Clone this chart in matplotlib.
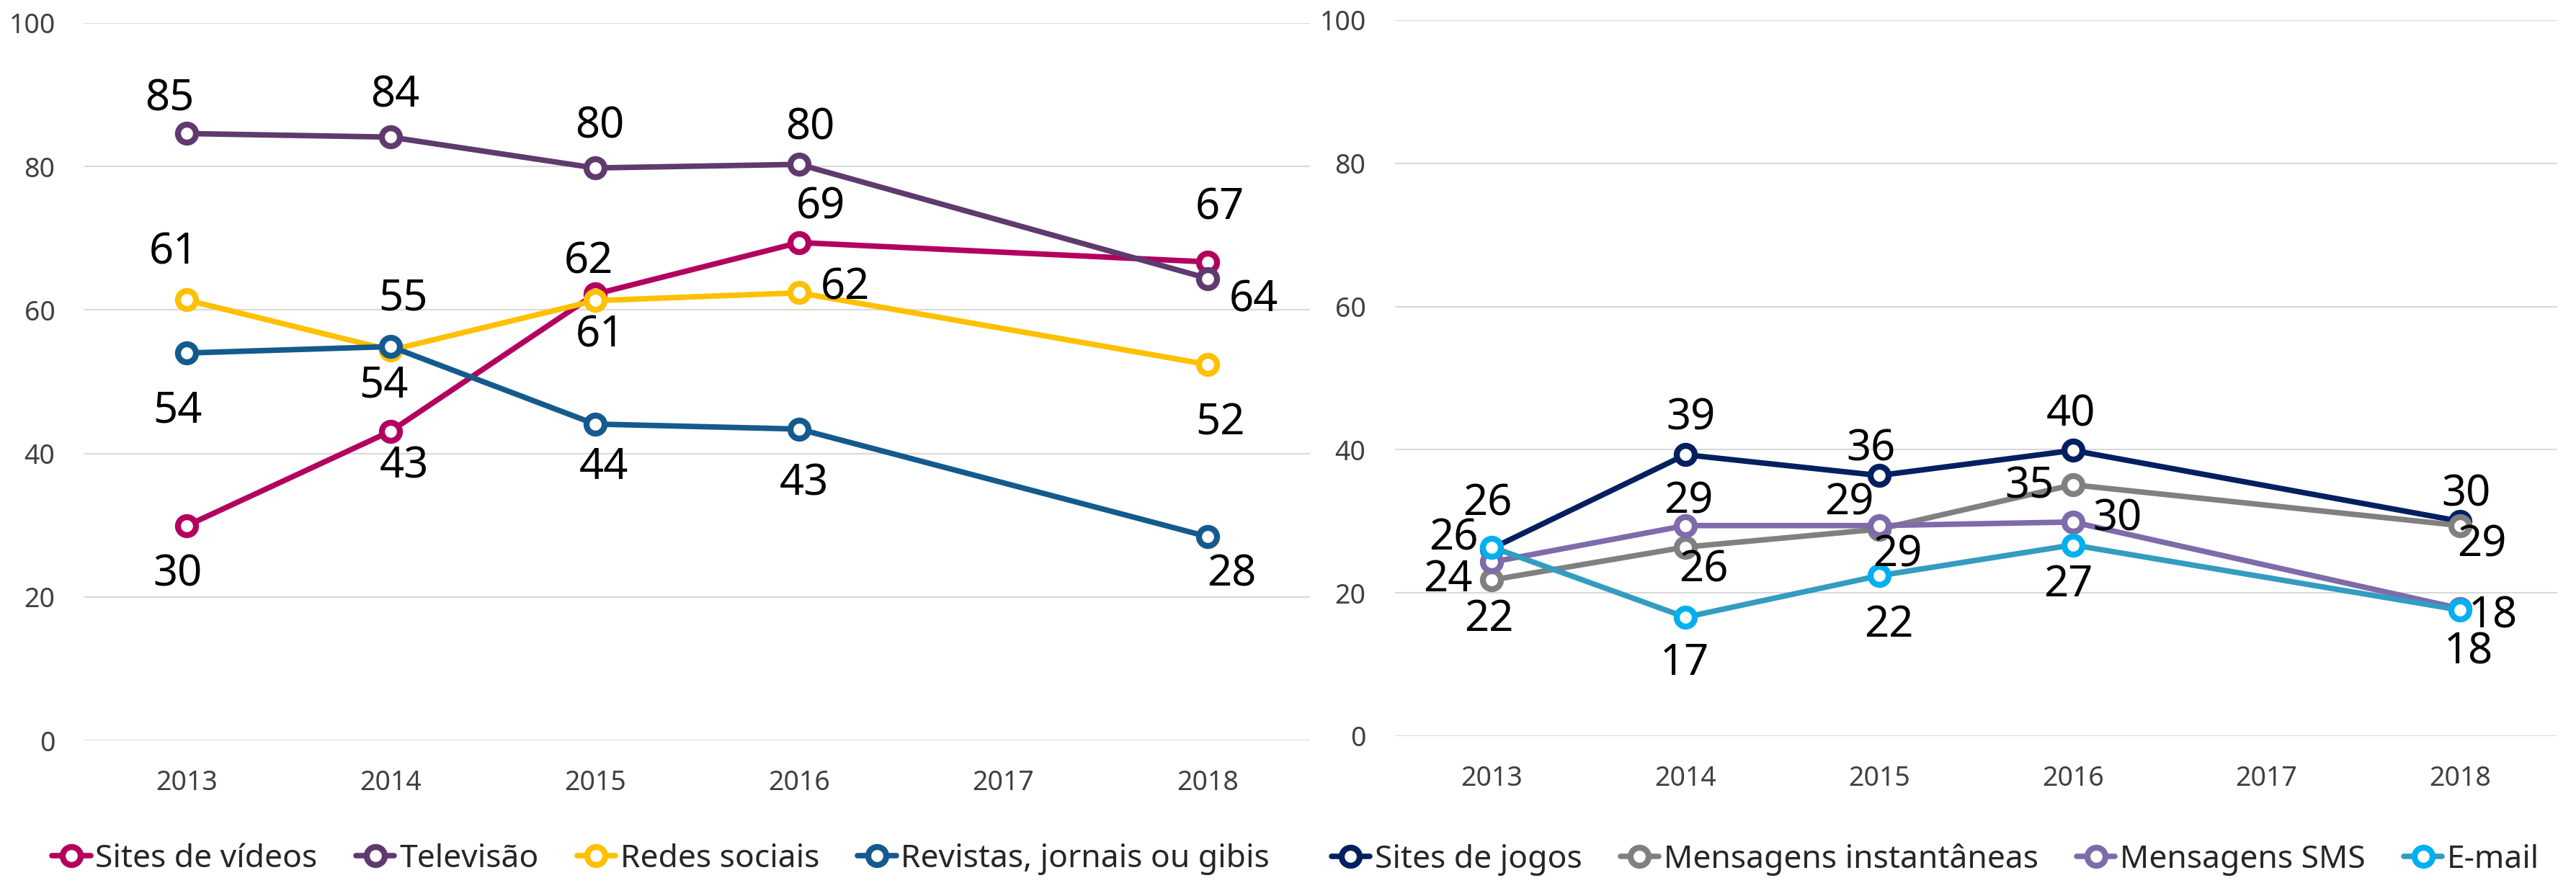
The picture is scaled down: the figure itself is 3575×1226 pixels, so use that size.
import matplotlib
matplotlib.use("Agg")
import matplotlib.pyplot as plt

plt.rcParams['font.family'] = ['Noto Sans', 'DejaVu Sans']

years = ["2013", "2014", "2015", "2016", "2017", "2018"]
# no survey in 2017, lines jump from 2016 to 2018
data_idx = [0, 1, 2, 3, 5]

# left panel
left_names = ["Sites de vídeos", "Televisão", "Redes sociais", "Revistas, jornais ou gibis"]
sites_videos = [29.9, 43.1, 62.2, 69.4, 66.7]
televisao = [84.6, 84.1, 79.8, 80.3, 64.4]
redes_sociais = [61.4, 54.4, 61.3, 62.4, 52.4]
revistas = [54.0, 54.9, 44.1, 43.4, 28.4]

# right panel
right_names = ["Sites de jogos", "Mensagens instantâneas", "Mensagens SMS", "E-mail"]
sites_jogos = [26.2, 39.3, 36.4, 39.9, 30.0]
msg_instantaneas = [21.8, 26.4, 28.9, 35.1, 29.4]
msg_sms = [24.3, 29.4, 29.4, 29.9, 17.8]
email = [26.4, 16.6, 22.4, 26.7, 17.6]

left_colors = ["#B3005E", "#5F3A6E", "#FFC000", "#145A8D"]
right_colors = ["#002060", "#808080", "#7D6BAA", "#339CC0"]
right_edge = ["#002060", "#808080", "#7D6BAA", "#00B0F0"]

# label offsets in pixels (dx, dy down) of the digit centre from the marker
left_offsets = [
    [(-12, 62), (19, 44), (-9, -50), (30, -54), (17, -80)],
    [(-23, -53), (6, -63), (7, -63), (15, -56), (64, 25)],
    [(-18, -71), (-10, 44), (7, 43), (64, -12), (17, 76)],
    [(-12, 75), (17, -72), (12, 55), (7, 71), (33, 47)],
]
right_offsets = [
    [(-6, -67), (7, -56), (-11, -42), (-3, -55), (8, -42)],
    [(-4, 50), (25, 27), (25, 31), (-60, -3), (30, 22)],
    [(-61, 20), (4, -38), (-42, -36), (62, -9), (45, 5)],
    [(-53, -17), (-1, 59), (13, 64), (-6, 50), (11, 53)],
]

LABEL_FS = 43
HALF_DIGIT = 21


def draw_panel(ax, series, colors, edges, offsets):
    handles = []
    for vals, col, edge, offs in zip(series, colors, edges, offsets):
        h, = ax.plot(data_idx, vals, color=col, lw=5.5, marker='o', ms=18,
                     mfc='white', mec=edge, mew=6, solid_capstyle='round')
        handles.append(h)
        for x, v, (dx, dy) in zip(data_idx, vals, offs):
            ax.annotate(f"{v:.0f}", (x, v), xytext=(dx, -dy - HALF_DIGIT),
                        textcoords='offset pixels', ha='center', va='baseline',
                        fontsize=LABEL_FS, color='black', zorder=5)
    ax.set_xlim(-0.5, 5.5)
    ax.set_ylim(0, 100)
    ax.set_xticks(range(len(years)))
    ax.set_xticklabels(years)
    ax.set_yticks(range(0, 101, 20))
    ax.yaxis.grid(True, color='#D9D9D9', lw=1.5)
    ax.set_axisbelow(True)
    for s in ax.spines.values():
        s.set_visible(False)
    ax.tick_params(axis='both', length=0, labelsize=27, labelcolor='#404040')
    ax.tick_params(axis='y', pad=29)
    ax.tick_params(axis='x', pad=29)
    return handles


fig = plt.figure(figsize=(35.75, 12.26), dpi=100)
ax1 = fig.add_axes([0.0327, 0.1615, 0.4758, 0.8124])
ax2 = fig.add_axes([0.5415, 0.1664, 0.4512, 0.8108])

h1 = draw_panel(ax1, [sites_videos, televisao, redes_sociais, revistas],
                left_colors, left_colors, left_offsets)
h2 = draw_panel(ax2, [sites_jogos, msg_instantaneas, msg_sms, email],
                right_colors, right_edge, right_offsets)

leg_kw = dict(loc='center', ncol=4, frameon=False, fontsize=32,
              handlelength=1.2, handletextpad=0.15, columnspacing=1.2,
              borderaxespad=0, borderpad=0, labelcolor='#262626')
fig.legend(h1, left_names, bbox_to_anchor=(0.2566, 0.0269), **leg_kw)
fig.legend(h2, right_names, bbox_to_anchor=(0.7513, 0.0269), **leg_kw)

fig.savefig("out.png", dpi=100)
